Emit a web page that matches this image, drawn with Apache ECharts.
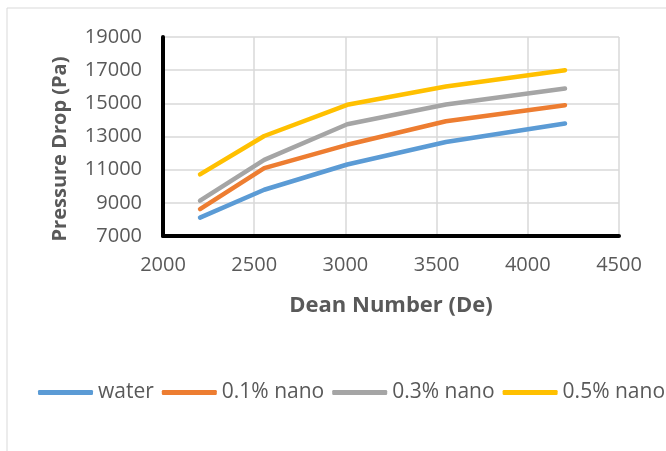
<!DOCTYPE html>
<html><head><meta charset="utf-8">
<script src="https://cdn.jsdelivr.net/npm/echarts@6/dist/echarts.min.js"></script>
<style>html,body{margin:0;padding:0;background:#fff}#c{width:666px;height:451px}</style>
</head><body><div id="c"></div>
<script>
const deanNumbers = [2203, 2555, 3010, 3551, 4204];
const water = [8110, 9790, 11310, 12670, 13780];
const nano01 = [8620, 11090, 12500, 13920, 14890];
const nano03 = [9130, 11590, 13740, 14930, 15890];
const nano05 = [10720, 13030, 14910, 16010, 17000];
const seriesNames = ['water', '0.1% nano', '0.3% nano', '0.5% nano'];
const seriesColors = ['#5B9BD5', '#ED7D31', '#A5A5A5', '#FFC000'];
const seriesData = [water, nano01, nano03, nano05];

const FONT = 'Open Sans';
const chart = echarts.init(document.getElementById('c'));
chart.setOption({
  animation: false,
  textStyle: {fontFamily: FONT},
  grid: {left: 163, right: 47, top: 37, bottom: 215, containLabel: false},
  xAxis: {
    type: 'value', min: 2000, max: 4500, interval: 500,
    axisLine: {show: true, lineStyle: {color: '#000', width: 4}},
    axisTick: {show: false},
    splitLine: {show: true, lineStyle: {color: '#D9D9D9', width: 1.5}},
    axisLabel: {color: '#595959', fontSize: 20, margin: 19, fontFamily: FONT, formatter: v => String(v)}
  },
  yAxis: {
    type: 'value', min: 7000, max: 19000, interval: 2000,
    axisLine: {show: true, onZero: false, lineStyle: {color: '#000', width: 4}},
    axisTick: {show: false},
    splitLine: {show: true, lineStyle: {color: '#D9D9D9', width: 1.5}},
    axisLabel: {color: '#595959', fontSize: 20, margin: 21, fontFamily: FONT, formatter: v => String(v)}
  },
  legend: {
    left: 38, top: 382, width: 628, padding: 0, icon: 'roundRect', itemWidth: 55, itemHeight: 5, itemGap: 8, itemTextGap: 4,
    textStyle: {color: '#595959', fontSize: 21, fontFamily: FONT},
    data: seriesNames
  },
  graphic: [
    {type: 'rect', shape: {x: 7, y: 8, width: 1000, height: 1000}, style: {fill: 'none', stroke: '#D9D9D9', lineWidth: 1}, z: -10},
    {type: 'text', x: 391, y: 306, style: {text: 'Dean Number (De)', fill: '#595959', font: 'bold 22px ' + FONT, align: 'center', verticalAlign: 'middle'}},
    {type: 'text', rotation: Math.PI / 2, x: 60, y: 149, style: {text: 'Pressure Drop (Pa)', fill: '#595959', font: 'bold 20px ' + FONT, align: 'center', verticalAlign: 'middle'}}
  ],
  series: seriesData.map((d, i) => ({
    name: seriesNames[i], type: 'line', showSymbol: false, symbol: 'none',
    data: d.map((v, j) => [deanNumbers[j], v]),
    lineStyle: {color: seriesColors[i], width: 4.5, cap: 'round', join: 'round'},
    itemStyle: {color: seriesColors[i]}
  }))
});
</script></body></html>
